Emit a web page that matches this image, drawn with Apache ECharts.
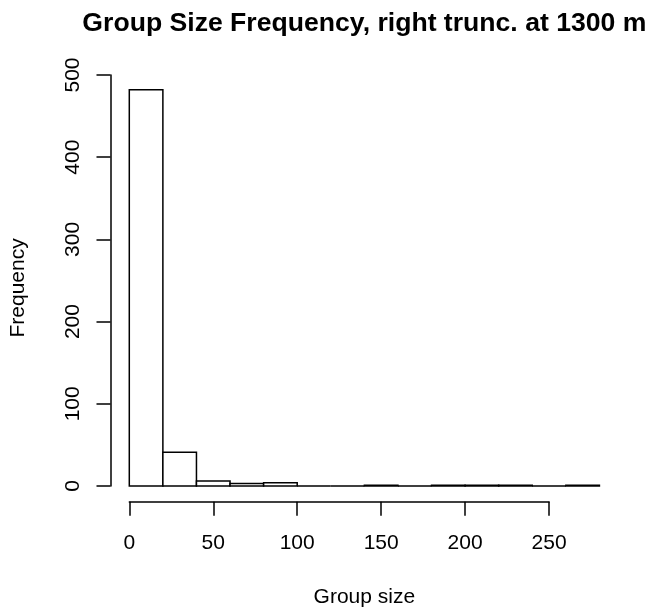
<!DOCTYPE html>
<html>
<head>
<meta charset="utf-8">
<script src="https://cdn.jsdelivr.net/npm/echarts@6/dist/echarts.min.js"></script>
<style>
html,body{margin:0;padding:0;background:#fff;}
#chart{width:648px;height:609px;}
</style>
</head>
<body>
<div id="chart"></div>
<script>
// Histogram data (bin width 20)
const binStarts = [0, 20, 40, 60, 80, 100, 120, 140, 160, 180, 200, 220, 240, 260];
const binWidth = 20;
const counts = [482, 41, 6, 3, 4, 0, 0, 1, 0, 1, 1, 1, 0, 1];
const xTicks = [0, 50, 100, 150, 200, 250];
const yTicks = [0, 100, 200, 300, 400, 500];
const titleText = 'Group Size Frequency, right trunc. at 1300 m';
const xLabel = 'Group size';
const yLabel = 'Frequency';

const FONT = '"Liberation Sans", Arial, Helvetica, sans-serif';
const chart = echarts.init(document.getElementById('chart'), null, {renderer: 'canvas'});

const histData = binStarts.map((s, i) => [s, s + binWidth, counts[i]]);

// R-style axis extents (4% padding)
const xLo = 0, xHi = binStarts[binStarts.length - 1] + binWidth;
const yHi = Math.max(...counts);
const xPad = (xHi - xLo) * 0.04, yPad = yHi * 0.04;

const pxPerX = 1.679, x0px = 129.3;
const pxPerY = 0.822, y0px = 486;

const gridLeft = x0px - xPad * pxPerX;
const gridWidth = (xHi - xLo + 2 * xPad) * pxPerX;
const gridTop = y0px - (yHi + yPad) * pxPerY;
const gridHeight = (yHi + 2 * yPad) * pxPerY;

const axisLabelStyle = {color: '#000', fontSize: 21, fontFamily: FONT};
const LW = 1.5;

chart.setOption({
  backgroundColor: '#fff',
  animation: false,
  grid: [
    {left: gridLeft, top: gridTop, width: gridWidth, height: gridHeight},
    {left: x0px, top: gridTop, width: xTicks[xTicks.length-1] * pxPerX, height: gridHeight},
    {left: gridLeft, top: y0px - yTicks[yTicks.length-1] * pxPerY, width: gridWidth, height: yTicks[yTicks.length-1] * pxPerY}
  ],
  xAxis: [
    {gridIndex: 0, type: 'value', min: xLo - xPad, max: xHi + xPad, show: false},
    {gridIndex: 1, type: 'value', min: xTicks[0], max: xTicks[xTicks.length-1], interval: 50,
      axisLine: {show: true, lineStyle: {color: '#000', width: LW}},
      axisTick: {show: true, length: 14, lineStyle: {color: '#000', width: LW}},
      axisLabel: Object.assign({margin: 31}, axisLabelStyle),
      splitLine: {show: false}},
    {gridIndex: 2, type: 'value', min: 0, max: 1, show: false}
  ],
  yAxis: [
    {gridIndex: 0, type: 'value', min: -yPad, max: yHi + yPad, show: false},
    {gridIndex: 1, type: 'value', min: 0, max: 1, show: false},
    {gridIndex: 2, type: 'value', min: yTicks[0], max: yTicks[yTicks.length-1], interval: 100,
      axisLine: {show: true, lineStyle: {color: '#000', width: LW}},
      axisTick: {show: true, length: 14, lineStyle: {color: '#000', width: LW}},
      axisLabel: Object.assign({margin: 27, rotate: 90}, axisLabelStyle),
      splitLine: {show: false}}
  ],
  series: [{
    type: 'custom',
    xAxisIndex: 0, yAxisIndex: 0,
    data: histData,
    renderItem: function (params, api) {
      const p0 = api.coord([api.value(0), 0]);
      const p1 = api.coord([api.value(1), api.value(2)]);
      return {
        type: 'rect',
        shape: {x: p0[0], y: p1[1], width: p1[0] - p0[0], height: p0[1] - p1[1]},
        style: {fill: '#fff', stroke: '#000', lineWidth: LW}
      };
    }
  }],
  graphic: [
    {type: 'text', x: gridLeft + gridWidth / 2, y: 24,
      style: {text: titleText, fill: '#000', font: 'bold 26.6px ' + FONT, textAlign: 'center', textVerticalAlign: 'middle'}},
    {type: 'text', x: gridLeft + gridWidth / 2, y: 597,
      style: {text: xLabel, fill: '#000', font: '21px ' + FONT, textAlign: 'center', textVerticalAlign: 'middle'}},
    {type: 'text', x: 18, y: gridTop + gridHeight / 2, rotation: Math.PI / 2,
      style: {text: yLabel, fill: '#000', font: '21px ' + FONT, textAlign: 'center', textVerticalAlign: 'middle'}}
  ]
});
</script>
</body>
</html>
